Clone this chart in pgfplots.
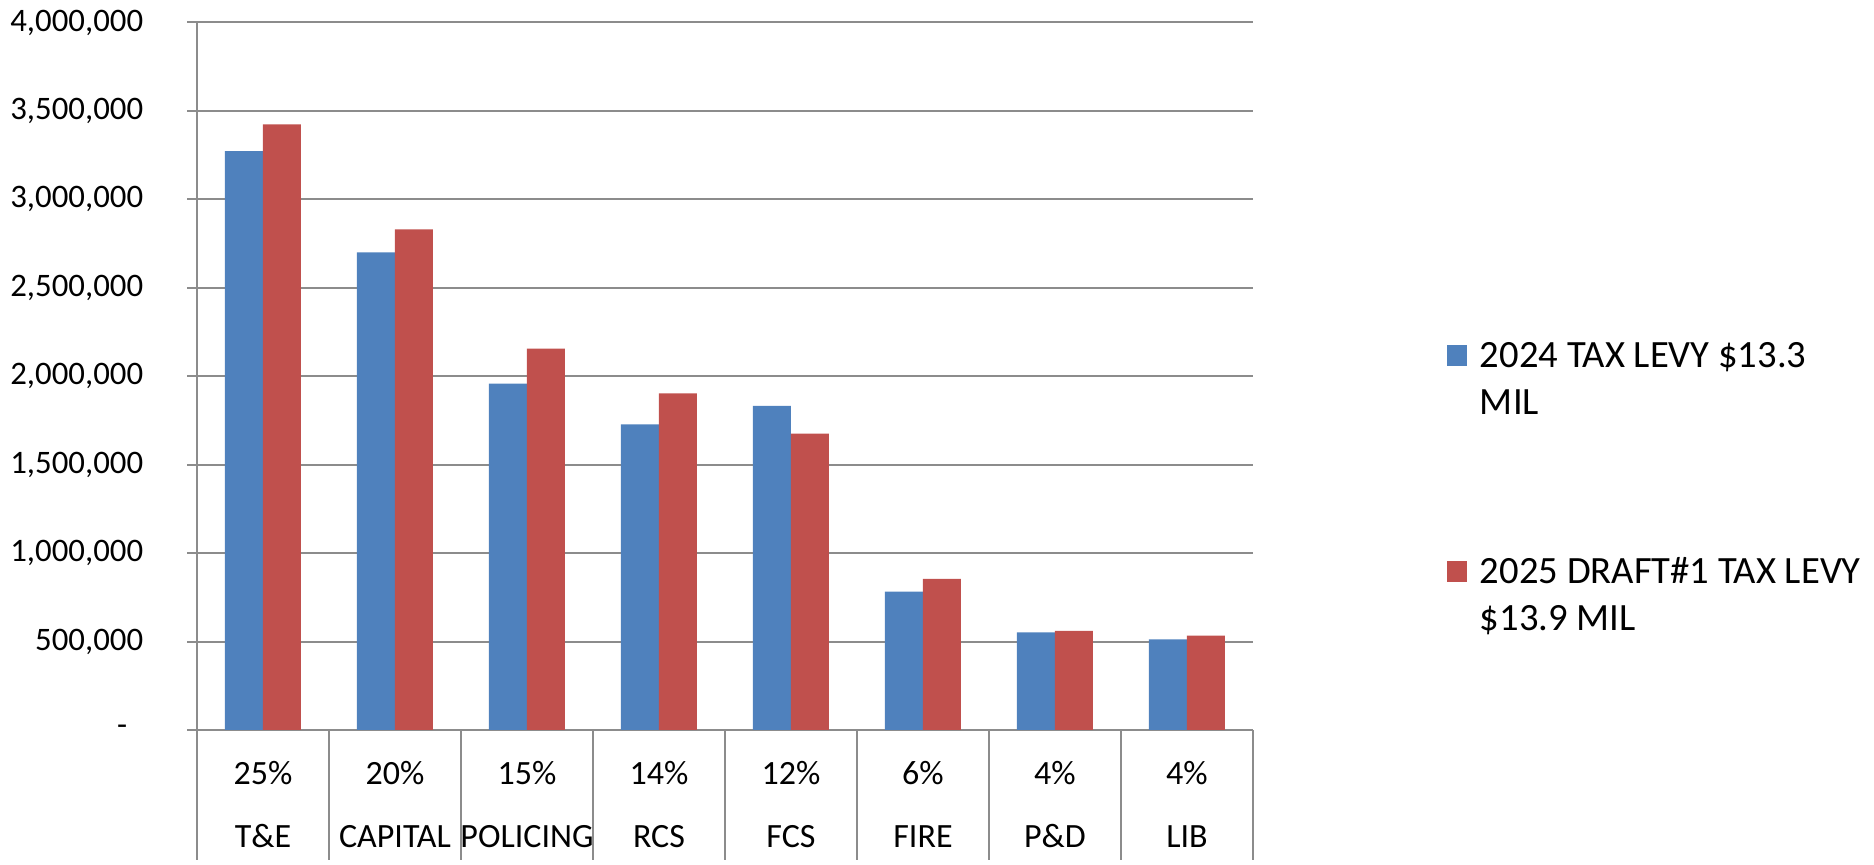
\documentclass[border=0pt]{standalone}
\usepackage{pgfplots}
\pgfplotsset{compat=1.18}
\usepackage{fontspec}
\setmainfont{Carlito}
\definecolor{barblue}{HTML}{4F81BD}
\definecolor{barred}{HTML}{C0504D}
\definecolor{gridgray}{HTML}{8C8C8C}
\newcommand{\xlab}[2]{\vtop{\baselineskip=31.5pt\lineskiplimit=-100pt\halign{\hfil##\hfil\cr #1\cr #2\cr}}}
\newcommand{\leglab}[3]{\hbox{\textcolor{#1}{\rule[1pt]{10.25pt}{10.25pt}}\kern6.25pt\vtop{\baselineskip=23.5pt\lineskiplimit=-100pt\hbox{\rule{0pt}{16pt}#2}\hbox{#3\rule[-7pt]{0pt}{7pt}}}}}
\begin{document}
\begin{tikzpicture}
\path[use as bounding box] (0,0) rectangle (937pt,432.5pt);
\begin{axis}[
  at={(98.5pt,67.5pt)}, anchor=south west,
  scale only axis, width=528pt, height=353.75pt,
  ybar=0pt, bar width=19pt,
  xmin=-0.5, xmax=7.5, ymin=0, ymax=4000000,
  scaled y ticks=false,
  axis x line*=bottom, axis y line*=left,
  axis line style={-, draw=gridgray, line width=1pt},
  ymajorgrids, grid style={draw=gridgray, line width=1pt},
  tick align=outside,
  major tick length=4.75pt,
  ytick={0,500000,1000000,1500000,2000000,2500000,3000000,3500000,4000000},
  yticklabels={{-\kern8pt},{500,000},{1,000,000},{1,500,000},{2,000,000},{2,500,000},{3,000,000},{3,500,000},{4,000,000}},
  ytick style={draw=gridgray, line width=1pt},
  yticklabel style={inner sep=0pt, anchor=east, xshift=-22pt, font=\fontsize{16.4}{20}\selectfont},
  xtick={0,1,2,3,4,5,6,7},
  xticklabels={{\xlab{25\%}{T\&E}},{\xlab{20\%}{CAPITAL}},{\xlab{15\%}{POLICING}},{\xlab{14\%}{RCS}},{\xlab{12\%}{FCS}},{\xlab{6\%}{FIRE}},{\xlab{4\%}{P\&D}},{\xlab{4\%}{LIB}}},
  xtick style={draw=none},
  xticklabel style={inner sep=0pt, anchor=base, yshift=-22.5pt, font=\fontsize{17}{31.5}\selectfont},
  extra x ticks={-0.5,0.5,1.5,2.5,3.5,4.5,5.5,6.5,7.5},
  extra x tick labels={},
  extra x tick style={major tick length=65pt, xtick style={draw=gridgray, line width=1pt}},
  legend style={at={(1.18371,0.55689)}, anchor=north west, draw=none, fill=none,
    inner sep=0pt, outer sep=0pt, nodes={inner sep=0pt, outer sep=0pt},
    font=\fontsize{19.3}{23.5}\selectfont, row sep=90.5pt, column sep=0pt},
  legend cell align=left,
  clip=false,
]
\addplot[fill=barblue, draw=none, legend image code/.code={}]
  coordinates {(0,3273000) (1,2700000) (2,1958000) (3,1728000) (4,1833000) (5,782000) (6,552000) (7,513000)};
\addlegendentry{\leglab{barblue}{2024 TAX LEVY \$13.3}{MIL}}
\addplot[fill=barred, draw=none, legend image code/.code={}]
  coordinates {(0,3424000) (1,2830000) (2,2156000) (3,1903000) (4,1675000) (5,854000) (6,560000) (7,533000)};
\addlegendentry{\leglab{barred}{2025 DRAFT\#1 TAX LEVY}{\$13.9 MIL}}
\end{axis}
\end{tikzpicture}
\end{document}
